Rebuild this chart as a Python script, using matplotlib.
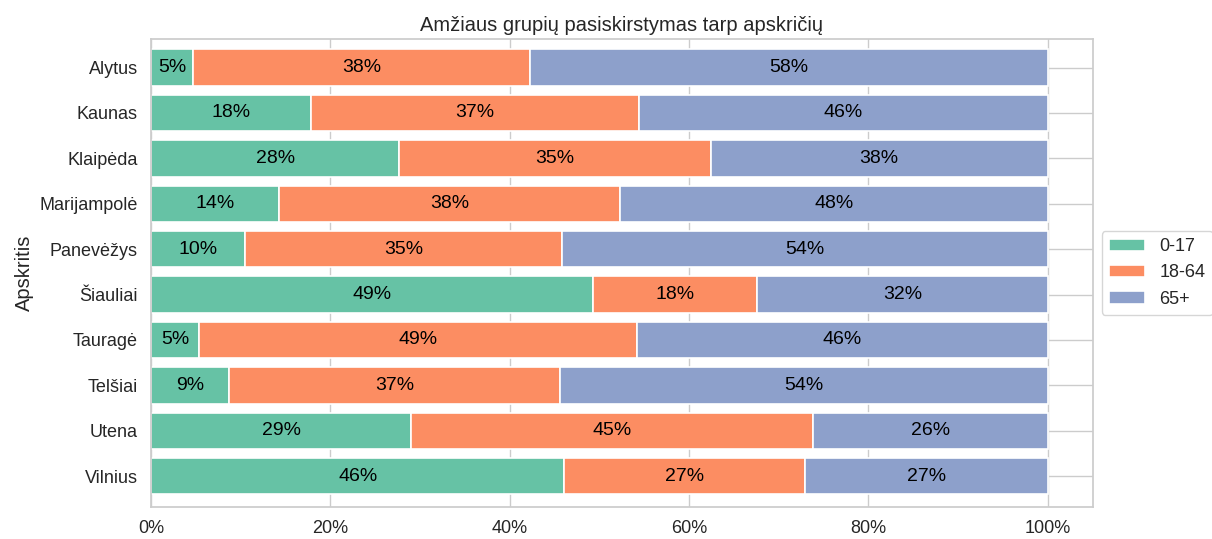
import matplotlib
matplotlib.use("Agg")
import matplotlib.pyplot as plt
import numpy as np
import seaborn as sns
from matplotlib.ticker import PercentFormatter

categories = ["Alytus", "Kaunas", "Klaipėda", "Marijampolė", "Panevėžys",
              "Šiauliai", "Tauragė", "Telšiai", "Utena", "Vilnius"]
group_names = ["0-17", "18-64", "65+"]
share_0_17 = [4.7, 17.8, 27.7, 14.3, 10.5, 49.3, 5.4, 8.7, 29.0, 46.1]
share_18_64 = [37.6, 36.6, 34.7, 38.0, 35.3, 18.3, 48.8, 36.9, 44.8, 26.8]
share_65 = [57.7, 45.6, 37.6, 47.7, 54.2, 32.4, 45.8, 54.4, 26.2, 27.1]

sns.set_theme(style="whitegrid")
plt.rcParams['font.family'] = ['Liberation Sans', 'DejaVu Sans']

colors = ["#66c2a5", "#fc8d62", "#8da0cb"]
series = [np.array(share_0_17) / 100, np.array(share_18_64) / 100, np.array(share_65) / 100]

fig = plt.figure(figsize=(12.12, 5.39), dpi=100)
ax = fig.add_axes([151 / 1212, 1 - 507 / 539, (1092.7 - 151) / 1212, (507 - 39) / 539])

y = np.arange(len(categories))
left = np.zeros(len(categories))
for name, vals, c in zip(group_names, series, colors):
    bars = ax.barh(y, vals, left=left, height=0.8, color=c, edgecolor="white",
                   linewidth=1.2, label=name, zorder=2)
    ax.bar_label(bars, labels=[f"{v*100:.0f}%" for v in vals], label_type="center",
                 fontsize=14, color="black")
    left += vals

ax.set_yticks(y)
ax.set_yticklabels(categories, fontsize=13)
ax.set_ylim(9.68, -0.63)
ax.set_xlim(0, 1.05)
ax.set_xticks([0, 0.2, 0.4, 0.6, 0.8, 1.0])
ax.xaxis.set_major_formatter(PercentFormatter(1.0, decimals=0))
ax.tick_params(axis="x", labelsize=13)
ax.set_ylabel("Apskritis", fontsize=14.5)
ax.set_title("Amžiaus grupių pasiskirstymas tarp apskričių", fontsize=14.5)
ax.set_axisbelow(True)
ax.legend(loc="center left", bbox_to_anchor=(1.0, 0.5), fontsize=13)

fig.savefig("out.png", dpi=100)
